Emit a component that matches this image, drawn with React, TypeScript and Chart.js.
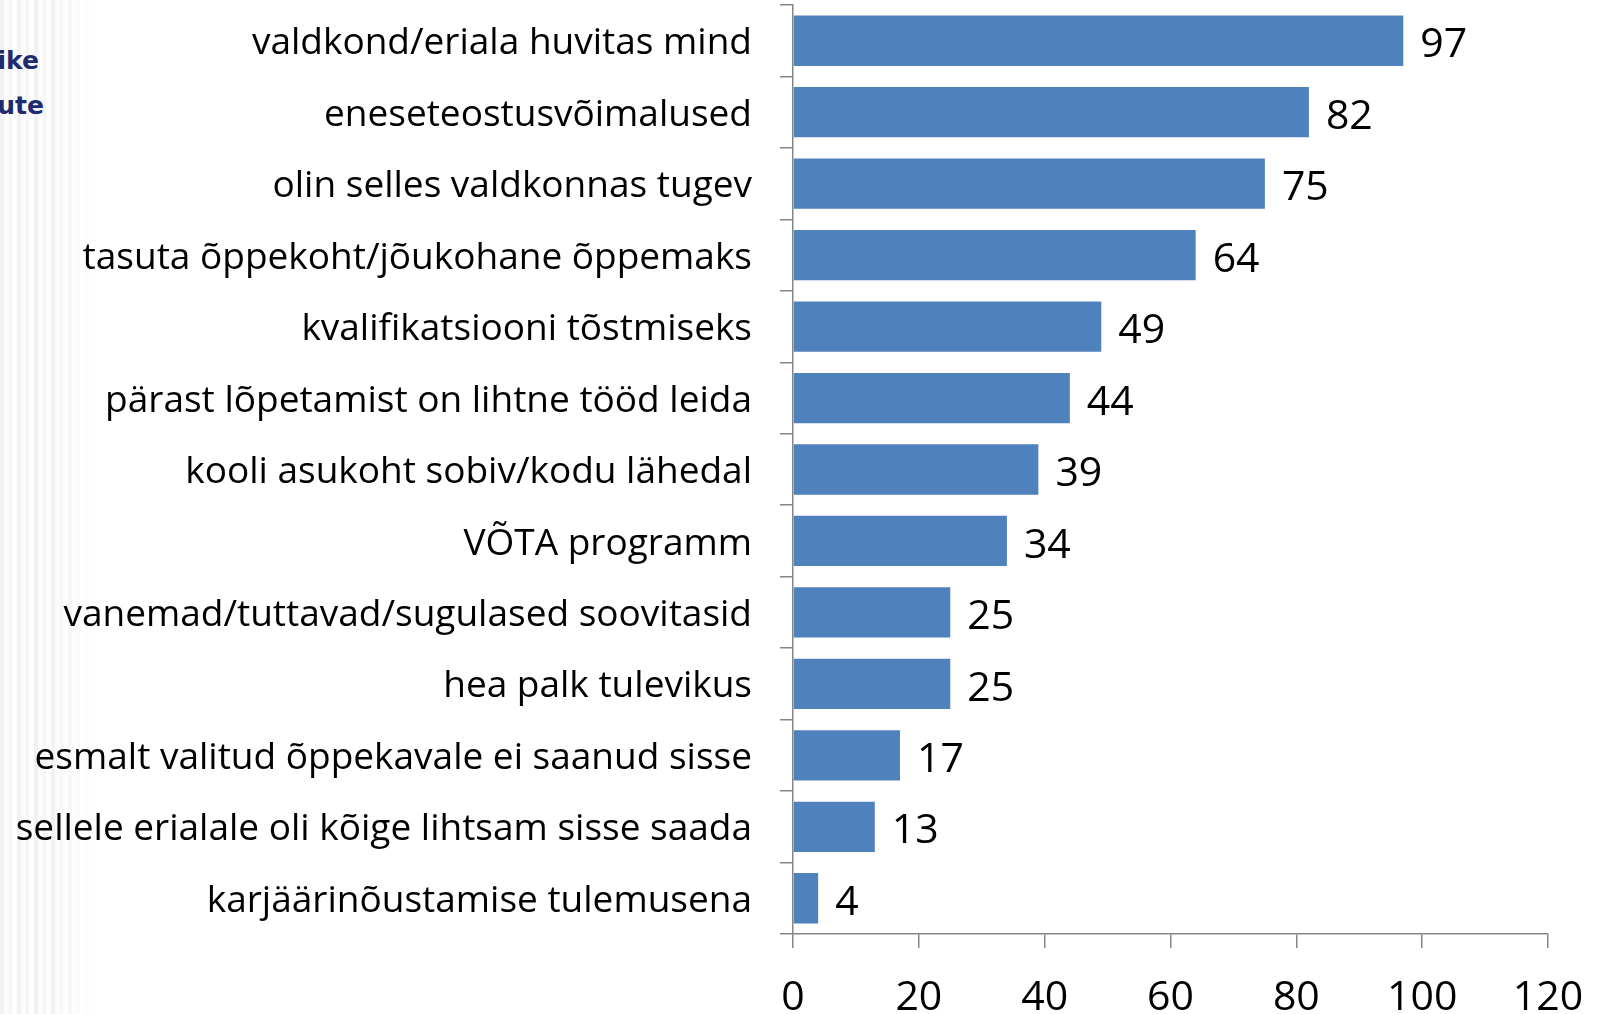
import React, { useEffect, useRef } from "react";
import { Chart, registerables } from "chart.js";

Chart.register(...registerables);

const categories = [
  "valdkond/eriala huvitas mind",
  "eneseteostusvõimalused",
  "olin selles valdkonnas tugev",
  "tasuta õppekoht/jõukohane õppemaks",
  "kvalifikatsiooni tõstmiseks",
  "pärast lõpetamist on lihtne tööd leida",
  "kooli asukoht sobiv/kodu lähedal",
  "VÕTA programm",
  "vanemad/tuttavad/sugulased soovitasid",
  "hea palk tulevikus",
  "esmalt valitud õppekavale ei saanud sisse",
  "sellele erialale oli kõige lihtsam sisse saada",
  "karjäärinõustamise tulemusena",
];

const values = [97, 82, 75, 64, 49, 44, 39, 34, 25, 25, 17, 13, 4];

const xMin = 0;
const xMax = 120;
const xStep = 20;

const sideFragments = ["ike", "ute"];

const FAMILY = "'Open Sans', 'Noto Sans', sans-serif";
const AXIS_COLOR = "#868686";
const BAR_COLOR = "#4F81BD";

export default function App() {
  const ref = useRef<HTMLCanvasElement>(null);

  useEffect(() => {
    if (!ref.current) return;
    const valueLabels = {
      id: "valueLabels",
      afterDatasetsDraw(chart: any) {
        const ctx = chart.ctx;
        const meta = chart.getDatasetMeta(0);
        ctx.save();
        ctx.font = `41px ${FAMILY}`;
        ctx.fillStyle = "#000";
        ctx.textAlign = "left";
        ctx.textBaseline = "middle";
        meta.data.forEach((bar: any, i: number) => {
          ctx.fillText(String(values[i]), bar.x + 17, bar.y + 5);
        });
        ctx.restore();
      },
    };

    const chart = new Chart(ref.current, {
      type: "bar",
      data: {
        labels: categories,
        datasets: [
          {
            data: values,
            backgroundColor: BAR_COLOR,
            borderWidth: 0,
            barPercentage: 0.704,
            categoryPercentage: 1,
          },
        ],
      },
      options: {
        indexAxis: "y",
        responsive: false,
        animation: false,
        layout: { padding: { top: 5, right: 53, left: 0, bottom: 0 } },
        plugins: {
          legend: { display: false },
          tooltip: { enabled: false },
        },
        scales: {
          x: {
            min: xMin,
            max: xMax,
            ticks: {
              stepSize: xStep,
              font: { family: FAMILY, size: 41 },
              color: "#000",
              padding: 26,
              maxRotation: 0,
            },
            grid: {
              drawOnChartArea: false,
              drawTicks: true,
              tickLength: 14,
              color: AXIS_COLOR,
              lineWidth: 1.5,
            },
            border: { display: true, color: AXIS_COLOR, width: 1.5 },
            afterFit(s: any) {
              s.height = 80;
              s.paddingLeft = 0;
              s.paddingRight = 0;
            },
          },
          y: {
            ticks: {
              font: { family: FAMILY, size: 37 },
              color: "#000",
              padding: 28,
              labelOffset: 3,
              autoSkip: false,
            },
            grid: {
              offset: true,
              drawOnChartArea: false,
              drawTicks: true,
              tickLength: 13,
              color: AXIS_COLOR,
              lineWidth: 1.5,
            },
            border: { display: true, color: AXIS_COLOR, width: 1.5 },
            afterFit(s: any) {
              s.width = 793;
              s.paddingTop = 0;
              s.paddingBottom = 0;
            },
          },
        },
      },
      plugins: [valueLabels],
    } as any);
    return () => chart.destroy();
  }, []);

  return (
    <div
      style={{
        position: "absolute",
        left: 0,
        top: 0,
        width: 1601,
        height: 1014,
        background: "#fff",
        overflow: "hidden",
      }}
    >
      <div
        style={{
          position: "absolute",
          left: 0,
          top: 0,
          width: 95,
          height: 1014,
          background:
            "repeating-linear-gradient(90deg, #f1f1f3 0px, #f1f1f3 4px, #fbfbfb 4px, #fbfbfb 9px, #f5f5f6 9px, #f5f5f6 12px, #fefefe 12px, #fefefe 17px)",
          WebkitMaskImage: "linear-gradient(90deg, #000 0%, #000 55%, transparent 100%)",
          maskImage: "linear-gradient(90deg, #000 0%, #000 55%, transparent 100%)",
        }}
      />
      {sideFragments.map((t, i) => (
        <div
          key={t}
          style={{
            position: "absolute",
            left: 0,
            top: i === 0 ? 46 : 91,
            width: i === 0 ? 39 : 44,
            height: 34,
            overflow: "hidden",
          }}
        >
          <span
            style={{
              position: "absolute",
              right: 0,
              top: 0,
              whiteSpace: "nowrap",
              fontFamily: "'DejaVu Sans', sans-serif",
              fontWeight: 700,
              fontSize: 25,
              lineHeight: "30px",
              color: "#1E2B6E",
            }}
          >
            {t}
          </span>
        </div>
      ))}
      <canvas
        ref={ref}
        width={1601}
        height={1014}
        style={{ position: "absolute", left: 0, top: 0, width: 1601, height: 1014 }}
      />
    </div>
  );
}
